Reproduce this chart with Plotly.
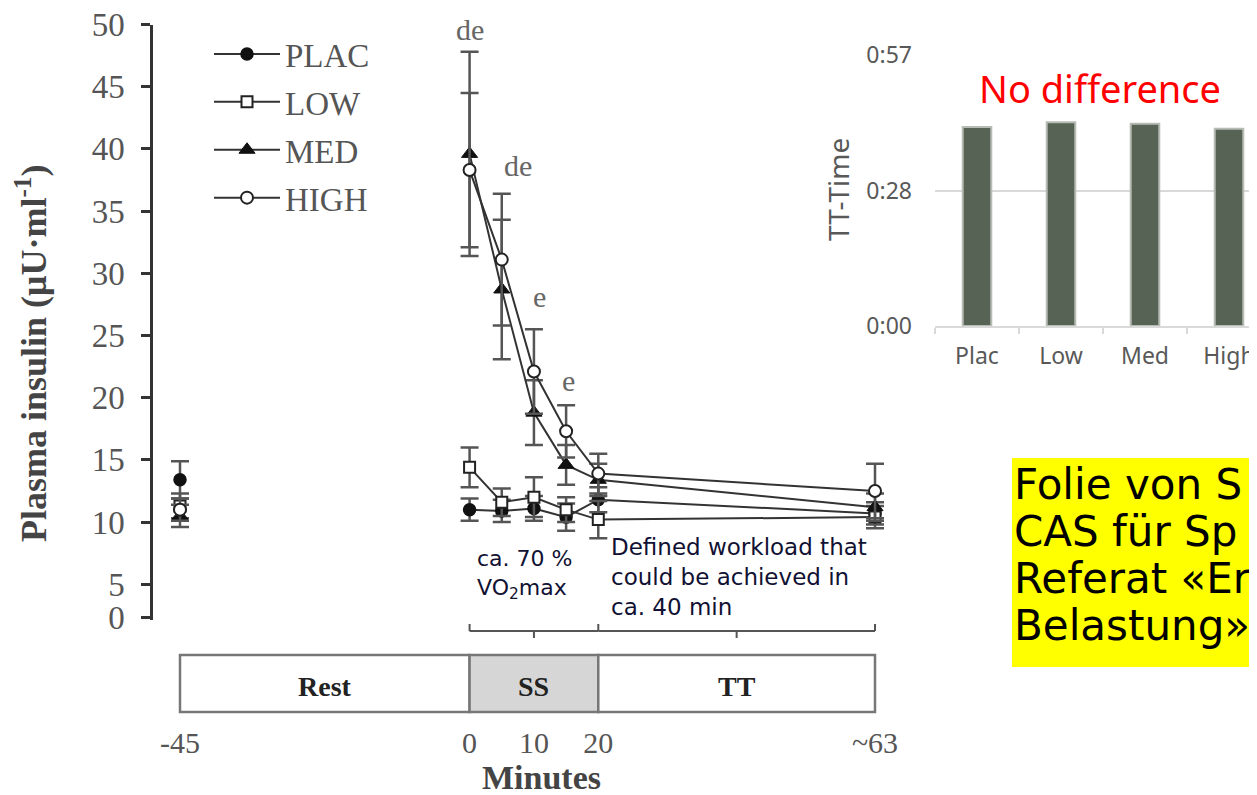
import plotly.graph_objects as go

W, H = 1257, 795
OFF = 8  # the page body margin shifts the figure by this many pixels
FW, FH = W - OFF, H - OFF

# ---------------- data ----------------
SERIES = ["PLAC", "LOW", "MED", "HIGH"]
TIMES = [0, 5, 10, 15, 20, 63]
REST_TIME = -45

PLAC = [11.0, 10.9, 11.1, 10.4, 11.8, 10.7]
PLAC_ERR = [0.9, 0.9, 1.0, 1.1, 1.0, 0.9]
LOW = [14.4, 11.6, 12.0, 11.0, 10.2, 10.4]
LOW_ERR = [1.6, 1.1, 1.6, 1.0, 1.5, 0.9]
MED = [39.6, 28.7, 18.8, 14.6, 13.4, 11.2]
MED_ERR = [8.2, 5.6, 2.6, 1.6, 1.3, 1.1]
HIGH = [38.3, 31.1, 22.1, 17.3, 13.9, 12.5]
HIGH_ERR = [6.2, 5.3, 3.4, 2.1, 1.6, 2.2]

REST_VALUES = [13.4, 11.3, 10.5, 11.0]
REST_ERRS = [1.5, 1.0, 0.9, 0.9]

SIG_LABELS = ["de", "de", "e", "e"]
SIG_X = [0, 7.5, 10.9, 15.4]
SIG_Y = [49.6, 38.7, 28.1, 21.4]

X_TICK_VALS = [-45, 0, 10, 20, 63]
X_TICK_LABELS = ["-45", "0", "10", "20", "~63"]
Y_TICK_VALS = [5, 10, 15, 20, 25, 30, 35, 40, 45, 50]
Y_TICK_LABELS = ["0", "5", "10", "15", "20", "25", "30", "35", "40", "45", "50"]

PHASES = ["Rest", "SS", "TT"]
PHASE_BOUNDS = [-45, 0, 20, 63]
PHASE_FILLS = ["white", "#d6d6d6", "white"]

TT_GROUPS = ["Plac", "Low", "Med", "High"]
TT_TIME_MIN = [42.3, 43.3, 43.0, 41.9]
TT_TICK_VALS = [0, 28.8, 57.6]
TT_TICK_LABELS = ["0:00", "0:28", "0:57"]

NOTE_LINES = ["Folie von S", "CAS für Sp", "Referat «Er", "Belastung»"]

# ---------------- helpers ----------------
def fx(px):
    return (px - OFF) / FW


def fy(py):
    return 1 - (py - OFF) / FH


SERIF = "Liberation Serif"
SANS = "DejaVu Sans"
OFFICE = "Noto Sans"

# main axis geometry (broken y axis: "0" drawn just below 5)
Y_BOTTOM = 2.13
Y_ZERO_POS = 2.37

series_data = [
    (PLAC, PLAC_ERR, dict(symbol="circle", size=12, color="#111111",
                          line=dict(color="#111111", width=1.5))),
    (LOW, LOW_ERR, dict(symbol="square", size=11, color="white",
                        line=dict(color="#222222", width=2))),
    (MED, MED_ERR, dict(symbol="triangle-up", size=14, color="#111111",
                        line=dict(color="#111111", width=1))),
    (HIGH, HIGH_ERR, dict(symbol="circle", size=12, color="white",
                          line=dict(color="#222222", width=2))),
]

fig = go.Figure()

for i, (name, (vals, errs, mk)) in enumerate(zip(SERIES, series_data)):
    fig.add_trace(go.Scatter(
        x=TIMES, y=vals, name=name, mode="lines+markers",
        legendgroup=name,
        line=dict(color="#333333", width=2),
        marker=mk,
        error_y=dict(type="data", array=errs, color="#555555",
                     thickness=2.5, width=9),
        xaxis="x", yaxis="y",
    ))
    fig.add_trace(go.Scatter(
        x=[REST_TIME], y=[REST_VALUES[i]], name=name, mode="markers",
        legendgroup=name, showlegend=False,
        marker=mk,
        error_y=dict(type="data", array=[REST_ERRS[i]], color="#555555",
                     thickness=2.5, width=9),
        xaxis="x", yaxis="y",
    ))

fig.add_trace(go.Bar(
    x=TT_GROUPS, y=TT_TIME_MIN, xaxis="x2", yaxis="y2", showlegend=False,
    width=0.34,
    marker=dict(color="#566355", line=dict(color="#b7bcb4", width=2)),
))

# ---------------- shapes ----------------
shapes = []
box_top, box_bot = fy(655), fy(712)
for k in range(len(PHASES)):
    shapes.append(dict(type="rect", xref="x", yref="paper",
                       x0=PHASE_BOUNDS[k], x1=PHASE_BOUNDS[k + 1],
                       y0=box_bot, y1=box_top, fillcolor=PHASE_FILLS[k],
                       line=dict(color="#777777", width=2.5), layer="below"))

br_y = fy(631)
br_up = fy(624)
br_dn = fy(638)
for a, b in [(PHASE_BOUNDS[1], PHASE_BOUNDS[2]), (PHASE_BOUNDS[2], PHASE_BOUNDS[3])]:
    shapes.append(dict(type="line", xref="x", yref="paper", x0=a, x1=b,
                       y0=br_y, y1=br_y, line=dict(color="#555555", width=2)))
    shapes.append(dict(type="line", xref="x", yref="paper", x0=(a + b) / 2,
                       x1=(a + b) / 2, y0=br_y, y1=br_dn,
                       line=dict(color="#555555", width=2)))
for xb in PHASE_BOUNDS[1:]:
    shapes.append(dict(type="line", xref="x", yref="paper", x0=xb, x1=xb,
                       y0=br_y, y1=br_up, line=dict(color="#555555", width=2)))

# yellow note background
shapes.append(dict(type="rect", xref="paper", yref="paper",
                   x0=fx(1012), x1=1.0, y0=fy(667), y1=fy(458),
                   fillcolor="#ffff00", line=dict(width=0), layer="below"))

# ---------------- annotations ----------------
def note(**kw):
    base = dict(showarrow=False, xanchor="center", yanchor="middle")
    base.update(kw)
    return base


ann = []
for t, xv, yv in zip(SIG_LABELS, SIG_X, SIG_Y):
    ann.append(note(text=t, x=xv, y=yv, xref="x", yref="y",
                    font=dict(family=SERIF, size=30, color="#666666")))

for k, ph in enumerate(PHASES):
    ann.append(note(text="<b>%s</b>" % ph,
                    x=(PHASE_BOUNDS[k] + PHASE_BOUNDS[k + 1]) / 2, xref="x",
                    y=fy(686), yref="paper",
                    font=dict(family=SERIF, size=28, color="#222222")))

ann.append(note(text="<b>Plasma insulin (μU·ml<sup>-1</sup>)</b>",
                x=fx(31), y=fy(354), xref="paper", yref="paper",
                textangle=-90,
                font=dict(family=SERIF, size=36, color="#444444")))
ann.append(note(text="<b>Minutes</b>", x=fx(541), y=fy(777),
                xref="paper", yref="paper",
                font=dict(family=SERIF, size=34, color="#444444")))

ann.append(note(text="ca. 70 %<br>VO<sub>2</sub>max", x=0.8, xref="x",
                y=fy(574), yref="paper", xanchor="left", align="left",
                font=dict(family=SANS, size=22, color="#111133")))
ann.append(note(text="Defined workload that<br>could be achieved in<br>ca. 40 min",
                x=21.6, xref="x", y=fy(577), yref="paper", xanchor="left",
                align="left",
                font=dict(family=SANS, size=23, color="#111133")))

ann.append(note(text="TT-Time", x=fx(838), y=fy(190), xref="paper", yref="paper",
                textangle=-90,
                font=dict(family=OFFICE, size=28, color="#595959")))
ann.append(note(text="No difference", x=fx(1100), y=fy(88), xref="paper",
                yref="paper",
                font=dict(family=OFFICE, size=38, color="#ff0000")))

for j, line in enumerate(NOTE_LINES):
    ann.append(note(text=line, x=fx(1012), y=fy(484 + 47 * j), xref="paper",
                    yref="paper", xanchor="left",
                    font=dict(family=SANS, size=42, color="#000000")))

# ---------------- layout ----------------
s = 695 / 108.0
r0 = -45 - (180 - 153) / s
r1 = r0 + (890 - 153) / s

fig.update_layout(
    width=FW, height=FH,
    margin=dict(l=0, r=0, t=0, b=0, pad=0, autoexpand=False),
    paper_bgcolor="white", plot_bgcolor="rgba(0,0,0,0)",
    showlegend=True,
    legend=dict(x=fx(209), y=fy(26), xanchor="left", yanchor="top",
                bgcolor="rgba(0,0,0,0)", borderwidth=0, itemwidth=66,
                tracegroupgap=2, traceorder="grouped",
                font=dict(family=SERIF, size=33, color="#555555")),
    xaxis=dict(domain=[fx(153), fx(890)], range=[r0, r1], anchor="free",
               position=fy(722), showline=False, showgrid=False,
               zeroline=False, ticks="", tickvals=X_TICK_VALS,
               ticktext=X_TICK_LABELS, ticklabeloverflow="allow",
               tickfont=dict(family=SERIF, size=30, color="#555555")),
    yaxis=dict(domain=[fy(620), fy(24.5)], range=[Y_BOTTOM, 50], anchor="x",
               showline=True, linecolor="#333333", linewidth=2.5,
               ticks="outside", ticklen=9, tickwidth=2.5, tickcolor="#333333",
               showgrid=False, zeroline=False,
               tickvals=[Y_ZERO_POS] + Y_TICK_VALS, ticktext=Y_TICK_LABELS,
               ticklabelstandoff=10, ticklabeloverflow="allow",
               tickfont=dict(family=SERIF, size=33, color="#555555")),
    xaxis2=dict(domain=[fx(935), 1.0], anchor="y2", type="category",
                categoryorder="array", categoryarray=TT_GROUPS,
                range=[-0.5, 3.5 - 14 / 84.0], showline=True,
                linecolor="#d9d9d9", linewidth=2, ticks="outside",
                tickson="boundaries", ticklen=6, tickwidth=2,
                tickcolor="#d9d9d9", showgrid=False,
                ticklabelstandoff=8, ticklabeloverflow="allow",
                tickfont=dict(family=OFFICE, size=23, color="#595959")),
    yaxis2=dict(domain=[fy(326), fy(55)], anchor="x2", range=[0, 57.6],
                tickvals=TT_TICK_VALS, ticktext=TT_TICK_LABELS,
                showgrid=True, gridcolor="#d9d9d9", gridwidth=2,
                zeroline=False, showline=False, ticks="",
                ticklabelstandoff=22, ticklabeloverflow="allow",
                tickfont=dict(family=OFFICE, size=23, color="#595959")),
    shapes=shapes,
    annotations=ann,
)

fig.write_html("out.html")
